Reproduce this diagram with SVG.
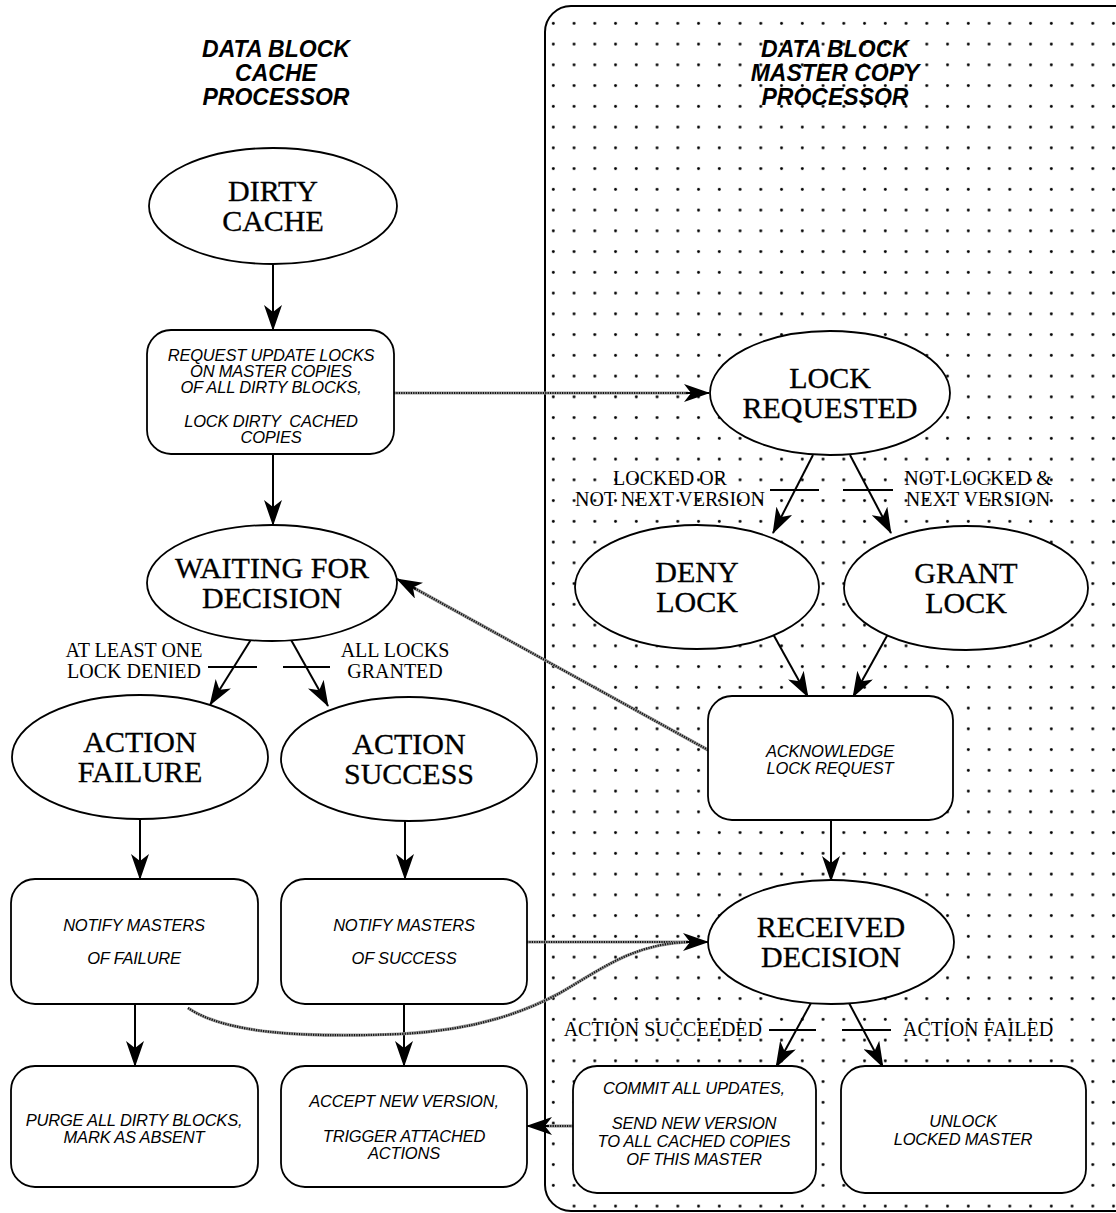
<svg xmlns="http://www.w3.org/2000/svg" width="1116" height="1213" viewBox="0 0 1116 1213">
  <style>
    .node { fill: #fff; stroke: #000; stroke-width: 1.8; }
    .state { font-family: "Liberation Serif", "Times New Roman", serif; font-size: 30px; text-anchor: middle; fill: #000; stroke: #000; stroke-width: 0.3; }
    .act { font-family: "Liberation Sans", Arial, sans-serif; font-style: italic; font-size: 16.5px; text-anchor: middle; fill: #000; letter-spacing: -0.2px; }
    .title { font-family: "Liberation Sans", Arial, sans-serif; font-style: italic; font-weight: bold; font-size: 23px; text-anchor: middle; fill: #000; }
    .cond { font-family: "Liberation Serif", "Times New Roman", serif; font-size: 20px; fill: #000; }
    .flow { fill: none; stroke: #000; stroke-width: 2; marker-end: url(#head); }
    .tick { fill: none; stroke: #000; stroke-width: 2; }
    .msg-bg { fill: none; stroke: #9a9a9a; stroke-width: 3.2; }
    .msg { fill: none; stroke: #111; stroke-width: 2.2; stroke-dasharray: 1.2 1.2; }
  </style>
  <defs>
    <marker id="head" markerUnits="userSpaceOnUse" viewBox="0 0 26 18" markerWidth="26" markerHeight="18" refX="25" refY="9" orient="auto">
      <path d="M0,0 L26,9 L0,18 L7,9 z" fill="#000"/>
    </marker>
    <pattern id="dots" patternUnits="userSpaceOnUse" x="543" y="13" width="20.75" height="20.75">
      <circle cx="10.3" cy="10.3" r="1.45" fill="#000"/>
    </pattern>
  </defs>

  <rect width="1116" height="1213" fill="#fff"/>

  <!-- master copy processor panel -->
  <g id="master-panel">
    <rect x="545" y="6" width="600" height="1205" rx="26" fill="url(#dots)" stroke="#000" stroke-width="2"/>
  </g>

  <!-- column headings -->
  <g id="cache-heading">
    <text class="title" x="276" y="57">DATA BLOCK</text>
    <text class="title" x="276" y="81">CACHE</text>
    <text class="title" x="276" y="105">PROCESSOR</text>
  </g>
  <g id="master-heading">
    <text class="title" x="835" y="57">DATA BLOCK</text>
    <text class="title" x="835" y="81">MASTER COPY</text>
    <text class="title" x="835" y="105">PROCESSOR</text>
  </g>

  <!-- connectors -->
  <g id="connectors">
    <!-- cache processor flow -->
    <line class="flow" x1="273" y1="264" x2="273" y2="330"/>
    <line class="flow" x1="273" y1="454" x2="273" y2="525"/>
    <line class="flow" x1="252" y1="638" x2="210" y2="705"/>
    <line class="flow" x1="290" y1="638" x2="328" y2="706"/>
    <line class="tick" x1="208" y1="667" x2="257" y2="667"/>
    <line class="tick" x1="283" y1="667" x2="330" y2="667"/>
    <line class="flow" x1="140" y1="819" x2="140" y2="879"/>
    <line class="flow" x1="405" y1="821" x2="405" y2="879"/>
    <line class="flow" x1="135" y1="1004" x2="135" y2="1066"/>
    <line class="flow" x1="404" y1="1004" x2="404" y2="1066"/>

    <!-- master processor flow -->
    <line class="flow" x1="813" y1="455" x2="773" y2="533"/>
    <line class="flow" x1="850" y1="455" x2="891" y2="533"/>
    <line class="tick" x1="770" y1="490" x2="819" y2="490"/>
    <line class="tick" x1="843" y1="490" x2="893" y2="490"/>
    <line class="flow" x1="773" y1="634" x2="808" y2="697"/>
    <line class="flow" x1="888" y1="634" x2="853" y2="697"/>
    <line class="flow" x1="831" y1="820" x2="831" y2="881"/>
    <line class="flow" x1="811" y1="1003" x2="776" y2="1067"/>
    <line class="flow" x1="849" y1="1003" x2="883" y2="1067"/>
    <line class="tick" x1="769" y1="1030" x2="816" y2="1030"/>
    <line class="tick" x1="842" y1="1030" x2="891" y2="1030"/>

    <!-- messages between processors -->
    <g id="messages">
      <path class="msg-bg" d="M394,393 L688,393"/>
      <path class="msg" d="M394,393 L688,393"/>
      <path class="msg-bg" d="M708,750 L414,588"/>
      <path class="msg" d="M708,750 L414,588"/>
      <path class="msg-bg" d="M527,942 L688,942"/>
      <path class="msg" d="M527,942 L688,942"/>
      <path class="msg-bg" d="M188,1008 C225,1033 300,1038 400,1034 C480,1030 528,1010 560,993 C600,970 632,944 688,942"/>
      <path class="msg" d="M188,1008 C225,1033 300,1038 400,1034 C480,1030 528,1010 560,993 C600,970 632,944 688,942"/>
      <path class="msg-bg" d="M573,1126 L547,1126"/>
      <path class="msg" d="M573,1126 L547,1126"/>
      <!-- heads -->
      <line class="flow" x1="686" y1="393" x2="709" y2="393"/>
      <line class="flow" x1="416" y1="589" x2="397" y2="579"/>
      <line class="flow" x1="686" y1="942" x2="708" y2="942"/>
      <line class="flow" x1="549" y1="1126" x2="527" y2="1126"/>
    </g>
  </g>

  <!-- cache processor states -->
  <g id="dirty-cache">
    <ellipse class="node" cx="273" cy="206" rx="124" ry="58"/>
    <text class="state" x="273" y="201">DIRTY</text>
    <text class="state" x="273" y="231">CACHE</text>
  </g>
  <g id="request-locks">
    <rect class="node" x="147" y="330" width="247" height="124" rx="24"/>
    <text class="act" x="271" y="361">REQUEST UPDATE LOCKS</text>
    <text class="act" x="271" y="377">ON MASTER COPIES</text>
    <text class="act" x="271" y="393">OF ALL DIRTY BLOCKS,</text>
    <text class="act" x="271" y="427" style="white-space: pre">LOCK DIRTY  CACHED</text>
    <text class="act" x="271" y="443">COPIES</text>
  </g>
  <g id="waiting-for-decision">
    <ellipse class="node" cx="272" cy="583" rx="125" ry="58"/>
    <text class="state" x="272" y="578">WAITING FOR</text>
    <text class="state" x="272" y="608">DECISION</text>
  </g>
  <g id="cache-conditions">
    <text class="cond" x="134" y="657" text-anchor="middle">AT LEAST ONE</text>
    <text class="cond" x="134" y="678" text-anchor="middle">LOCK DENIED</text>
    <text class="cond" x="395" y="657" text-anchor="middle">ALL LOCKS</text>
    <text class="cond" x="395" y="678" text-anchor="middle">GRANTED</text>
  </g>
  <g id="action-failure">
    <ellipse class="node" cx="140" cy="757" rx="128" ry="62"/>
    <text class="state" x="140" y="752">ACTION</text>
    <text class="state" x="140" y="782">FAILURE</text>
  </g>
  <g id="action-success">
    <ellipse class="node" cx="409" cy="759" rx="128" ry="62"/>
    <text class="state" x="409" y="754">ACTION</text>
    <text class="state" x="409" y="784">SUCCESS</text>
  </g>
  <g id="notify-failure">
    <rect class="node" x="11" y="879" width="247" height="125" rx="24"/>
    <text class="act" x="134" y="931">NOTIFY MASTERS</text>
    <text class="act" x="134" y="964">OF FAILURE</text>
  </g>
  <g id="notify-success">
    <rect class="node" x="281" y="879" width="246" height="125" rx="24"/>
    <text class="act" x="404" y="931">NOTIFY MASTERS</text>
    <text class="act" x="404" y="964">OF SUCCESS</text>
  </g>
  <g id="purge-blocks">
    <rect class="node" x="11" y="1066" width="247" height="121" rx="24"/>
    <text class="act" x="134" y="1126">PURGE ALL DIRTY BLOCKS,</text>
    <text class="act" x="134" y="1143">MARK AS ABSENT</text>
  </g>
  <g id="accept-version">
    <rect class="node" x="281" y="1066" width="246" height="121" rx="24"/>
    <text class="act" x="404" y="1107">ACCEPT NEW VERSION,</text>
    <text class="act" x="404" y="1142">TRIGGER ATTACHED</text>
    <text class="act" x="404" y="1159">ACTIONS</text>
  </g>

  <!-- master copy processor states -->
  <g id="lock-requested">
    <ellipse class="node" cx="830" cy="393" rx="120" ry="62"/>
    <text class="state" x="830" y="388">LOCK</text>
    <text class="state" x="830" y="418">REQUESTED</text>
  </g>
  <g id="master-conditions">
    <text class="cond" x="670" y="485" text-anchor="middle">LOCKED OR</text>
    <text class="cond" x="670" y="506" text-anchor="middle">NOT NEXT VERSION</text>
    <text class="cond" x="978" y="485" text-anchor="middle">NOT LOCKED &amp;</text>
    <text class="cond" x="978" y="506" text-anchor="middle">NEXT VERSION</text>
  </g>
  <g id="deny-lock">
    <ellipse class="node" cx="697" cy="587" rx="122" ry="62"/>
    <text class="state" x="697" y="582">DENY</text>
    <text class="state" x="697" y="612">LOCK</text>
  </g>
  <g id="grant-lock">
    <ellipse class="node" cx="966" cy="588" rx="122" ry="62"/>
    <text class="state" x="966" y="583">GRANT</text>
    <text class="state" x="966" y="613">LOCK</text>
  </g>
  <g id="acknowledge">
    <rect class="node" x="708" y="696" width="245" height="124" rx="24"/>
    <text class="act" x="830" y="757">ACKNOWLEDGE</text>
    <text class="act" x="830" y="774">LOCK REQUEST</text>
  </g>
  <g id="received-decision">
    <ellipse class="node" cx="831" cy="942" rx="123" ry="62"/>
    <text class="state" x="831" y="937">RECEIVED</text>
    <text class="state" x="831" y="967">DECISION</text>
  </g>
  <g id="decision-conditions">
    <text class="cond" x="762" y="1036" text-anchor="end">ACTION SUCCEEDED</text>
    <text class="cond" x="903" y="1036">ACTION FAILED</text>
  </g>
  <g id="commit-updates">
    <rect class="node" x="573" y="1066" width="243" height="127" rx="24"/>
    <text class="act" x="694" y="1094">COMMIT ALL UPDATES,</text>
    <text class="act" x="694" y="1129">SEND NEW VERSION</text>
    <text class="act" x="694" y="1147">TO ALL CACHED COPIES</text>
    <text class="act" x="694" y="1165">OF THIS MASTER</text>
  </g>
  <g id="unlock-master">
    <rect class="node" x="841" y="1066" width="245" height="127" rx="24"/>
    <text class="act" x="963" y="1127">UNLOCK</text>
    <text class="act" x="963" y="1145">LOCKED MASTER</text>
  </g>
</svg>
